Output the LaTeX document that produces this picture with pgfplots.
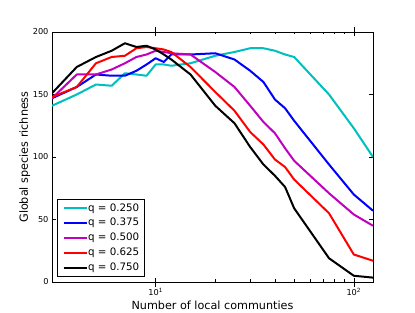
\documentclass[border=0pt]{standalone}
\usepackage{pgfplots}
\pgfplotsset{compat=1.18}
\usepackage{fontspec}
\setmainfont{DejaVu Sans}
\definecolor{mcyan}{rgb}{0,0.75,0.75}
\definecolor{mmag}{rgb}{0.75,0,0.75}
\begin{document}
\begin{tikzpicture}
\useasboundingbox (0,0) rectangle (415pt,313pt);
\begin{axis}[
  at={(52pt,31pt)}, anchor=south west,
  scale only axis, width=321pt, height=250pt,
  xmode=log, xmin=3, xmax=125, ymin=0, ymax=200,
  ytick={0,50,100,150,200},
  xtick={10,100}, xticklabels={10\textsuperscript{1},10\textsuperscript{2}},
  extra x ticks={10,100}, extra x tick labels={},
  extra x tick style={tick align=outside, major tick length=5pt},
  tick align=inside, major tick length=4pt, minor tick length=2.5pt,
  tick style={black, line width=0.6pt},
  axis line style={line width=0.8pt},
  /pgf/number format/assume math mode=true,
  tick label style={font=\fontsize{8.2}{10}\selectfont},
  xticklabel style={yshift=-2.5pt},
  label style={font=\fontsize{11.2}{13}\selectfont},
  xlabel={Number of local communties},
  ylabel={Global species richness},
  xlabel style={at={(axis description cs:0.5,-0.112)}, anchor=base},
  ylabel style={at={(axis description cs:-0.0748,0.5)}, anchor=base},
  legend cell align=left,
  legend image code/.code={\draw[#1, line width=2pt] (0pt,0pt) -- (17pt,0pt); \path (0pt,0pt) -- (23pt,0pt);},
  legend style={at={(0.016,0.021)}, anchor=south west, draw=black, line width=0.8pt,
    font=\fontsize{10.3}{12}\selectfont, inner xsep=5pt, inner ysep=3.5pt, row sep=4.3pt,
    nodes={inner sep=0.5pt, text height=7.5pt, text depth=2pt}},
  every axis plot/.append style={line width=2pt, line join=round},
]
\addplot[mcyan] coordinates {(3,141) (4,150) (5,158) (6,157) (7,167) (8,166) (9,165) (10,174) (11,174) (12,173) (15,175) (20,181) (25,184) (30,187) (35,187) (40,185) (45,182) (50,180) (75,150) (100,123) (125,100)};
\addlegendentry{q = 0.250}
\addplot[blue] coordinates {(3,147) (4,156) (5,166) (6,165) (7,165) (8,169) (9,174) (10,179) (11,176) (12,182) (15,182) (20,183) (25,178) (30,169) (35,160) (40,146) (45,139) (50,129) (75,94) (100,70) (125,57)};
\addlegendentry{q = 0.375}
\addplot[mmag] coordinates {(3,147) (4,166) (5,166) (6,170) (7,175) (8,180) (9,182) (10,185) (11,184) (12,183) (15,182) (20,168) (25,156) (30,141) (35,128) (40,119) (45,107) (50,97) (75,71) (100,54) (125,45)};
\addlegendentry{q = 0.500}
\addplot[red] coordinates {(3,148) (4,156) (5,175) (6,180) (7,181) (8,187) (9,188) (10,187) (11,186) (12,184) (15,172) (20,152) (25,137) (30,120) (35,110) (40,98) (45,92) (50,82) (75,55) (100,22) (125,17)};
\addlegendentry{q = 0.625}
\addplot[black] coordinates {(3,151) (4,172) (5,180) (6,185) (7,191) (8,188) (9,189) (10,186) (11,182) (12,178) (15,166) (20,141) (25,127) (30,108) (35,94) (40,85) (45,76) (50,59) (75,19) (100,5) (125,3.5)};
\addlegendentry{q = 0.750}
\end{axis}
\end{tikzpicture}
\end{document}
